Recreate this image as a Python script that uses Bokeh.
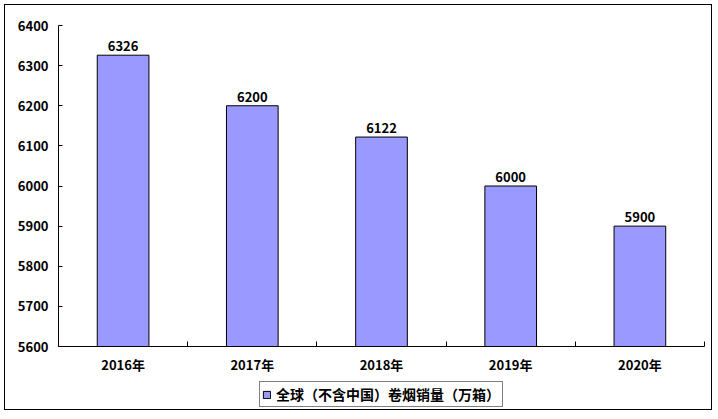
from bokeh.plotting import figure
from bokeh.models import FixedTicker, Legend, LegendItem, ColumnDataSource
from bokeh.layouts import column
from bokeh.embed import file_html
from bokeh.resources import INLINE
from bokeh.core.properties import value

years = ["2016年", "2017年", "2018年", "2019年", "2020年"]
sales = [6326, 6200, 6122, 6000, 5900]
y_ticks = [5600, 5700, 5800, 5900, 6000, 6100, 6200, 6300, 6400]
series_name = "全球（不含中国）卷烟销量（万箱）"

FONT = "Noto Sans CJK SC"
BAR_FILL = "#9999FF"

xs = [i + 0.5 for i in range(len(years))]
src = ColumnDataSource(dict(x=xs, top=sales, label=[str(v) for v in sales]))

p = figure(width=708, height=372, output_backend="svg", toolbar_location=None,
           x_range=(0, len(years)), y_range=(y_ticks[0], y_ticks[-1]),
           min_border_left=53, min_border_right=7, min_border_top=20, min_border_bottom=31)
p.outline_line_color = None
p.xgrid.visible = False
p.ygrid.visible = False
p.background_fill_color = None
p.border_fill_color = None

bars = p.vbar(x="x", top="top", bottom=y_ticks[0], width=0.4, source=src,
              fill_color=BAR_FILL, line_color="black", line_width=1)

p.text(x="x", y="top", text="label", source=src, text_align="center", text_baseline="bottom",
       y_offset=-4, text_font=value(FONT), text_font_style="bold", text_font_size="13px",
       text_color="black")

p.xaxis.ticker = FixedTicker(ticks=xs, minor_ticks=list(range(len(years) + 1)))
p.xaxis.major_label_overrides = {x: y for x, y in zip(xs, years)}
p.xaxis.major_tick_in = 0
p.xaxis.major_tick_out = 0
p.xaxis.minor_tick_in = 5
p.xaxis.minor_tick_out = 0
p.xaxis.major_label_standoff = 8

p.yaxis.ticker = FixedTicker(ticks=y_ticks)
p.yaxis.major_tick_in = 4
p.yaxis.major_tick_out = 0
p.yaxis.minor_tick_in = 0
p.yaxis.minor_tick_out = 0
p.yaxis.major_label_standoff = 10

for ax in (p.xaxis, p.yaxis):
    ax.major_label_text_font = FONT
    ax.major_label_text_font_style = "bold"
    ax.major_label_text_font_size = "13px"
    ax.major_label_text_color = "black"
    ax.axis_line_color = "black"
    ax.major_tick_line_color = "black"
    ax.minor_tick_line_color = "black"

# legend strip below the chart
p2 = figure(width=708, height=34, output_backend="svg", toolbar_location=None,
            x_range=(0, 1), y_range=(0, 1), x_axis_type=None, y_axis_type=None,
            min_border_left=0, min_border_right=0, min_border_top=0, min_border_bottom=0)
p2.outline_line_color = None
p2.xgrid.visible = False
p2.ygrid.visible = False
p2.background_fill_color = None
p2.border_fill_color = None
key = p2.vbar(x=[-5], top=[-5], bottom=-6, width=0.1, fill_color=BAR_FILL,
              line_color="black", line_width=1)

legend = Legend(items=[LegendItem(label=series_name, renderers=[key])],
                location="center", orientation="horizontal",
                border_line_color="black", border_line_width=1,
                label_text_font=FONT, label_text_font_style="bold", label_text_font_size="14px",
                label_text_color="black", glyph_width=9, glyph_height=9,
                padding=2, spacing=0, margin=0, label_standoff=5,
                label_height=14, background_fill_color="white", background_fill_alpha=1)
p2.add_layout(legend, "center")

layout = column(p, p2, spacing=0)
layout.styles = {"border": "1px solid black", "position": "relative", "left": "4px", "top": "4px",
                 "width": "708px", "height": "406px", "background-color": "white"}

open("out.html", "w").write(file_html(layout, INLINE))
